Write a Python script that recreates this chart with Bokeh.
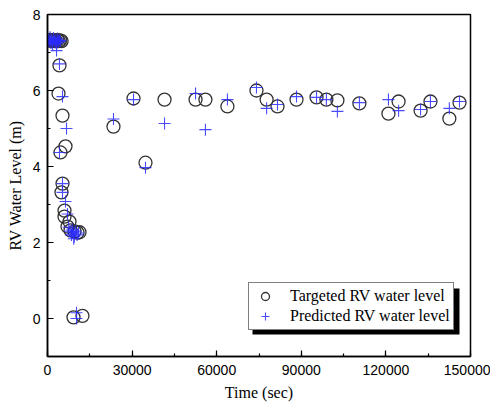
from bokeh.plotting import figure
from bokeh.models import Legend, LegendItem, SingleIntervalTicker, Range1d
from bokeh.embed import file_html
from bokeh.resources import INLINE

# Targeted RV water level (circles)
t_time = [600, 1000, 1500, 2000, 2500, 3000, 3500, 4000, 4500, 5000,
          4250, 3900, 5320, 6380, 4600, 5320, 4960, 6030, 6030, 7800, 7090,
          8160, 9570, 10640, 11350, 9220, 12400,
          23400, 30500, 34750, 41500, 52500, 56000, 63800, 74100, 77700, 81560,
          88300, 95400, 98900, 102800, 110600, 120900, 124500, 132300, 135800,
          142500, 146100]
t_level = [7.32, 7.33, 7.30, 7.32, 7.31, 7.30, 7.33, 7.30, 7.32, 7.30,
           6.66, 5.92, 5.34, 4.53, 4.37, 3.55, 3.32, 2.84, 2.68, 2.55, 2.42,
           2.32, 2.29, 2.26, 2.27, 0.03, 0.07,
           5.05, 5.79, 4.10, 5.76, 5.76, 5.76, 5.58, 6.00, 5.76, 5.58,
           5.76, 5.82, 5.76, 5.74, 5.66, 5.39, 5.71, 5.47, 5.71,
           5.26, 5.68]

# Predicted RV water level (plus markers)
p_time = [300, 600, 900, 1200, 1500, 1800, 2100, 2400, 2700, 3000, 3300,
          3600, 3900, 4200, 4500, 3200,
          4250, 5320, 6740, 4250, 5320, 5320, 6380, 7090,
          7500, 8000, 8500, 9000, 9500, 10000, 10500, 11000, 8800, 9300,
          10300, 10300,
          23400, 30500, 34750, 41500, 52500, 56000, 63800, 74100, 77700, 81560,
          88300, 95400, 98900, 102800, 110600, 120900, 124500, 132300, 135800,
          142500, 146100]
p_level = [7.35, 7.28, 7.40, 7.25, 7.33, 7.22, 7.38, 7.30, 7.26, 7.34, 7.24,
           7.36, 7.28, 7.32, 7.30, 7.05,
           6.70, 5.84, 5.00, 4.37, 3.55, 3.32, 3.08, 2.75,
           2.40, 2.30, 2.20, 2.25, 2.15, 2.30, 2.20, 2.25, 2.35, 2.10,
           0.15, 0.00,
           5.25, 5.76, 3.97, 5.13, 5.92, 4.97, 5.76, 6.08, 5.53, 5.63,
           5.84, 5.82, 5.76, 5.45, 5.68, 5.76, 5.47, 5.50, 5.71,
           5.53, 5.71]

x_ticks = [0, 30000, 60000, 90000, 120000, 150000]
y_ticks = [0, 2, 4, 6, 8]
x_lo, x_hi = 0, 150000
y_lo, y_hi = -1, 8

W, H = 490, 405
FL, FR, FT, FB = 47, 470, 14, 356   # frame edges on the canvas
p = figure(width=W, height=H, output_backend="svg", toolbar_location=None,
           x_range=Range1d(x_lo, x_hi), y_range=Range1d(y_lo, y_hi),
           min_border_left=FL, min_border_right=W - FR,
           min_border_top=FT, min_border_bottom=H - FB)

p.background_fill_color = "white"
p.border_fill_color = "white"
p.outline_line_color = "black"
p.outline_line_width = 1.5
p.xgrid.visible = False
p.ygrid.visible = False

p.xaxis.ticker = SingleIntervalTicker(interval=30000, num_minor_ticks=2)
p.yaxis.ticker = SingleIntervalTicker(interval=2, num_minor_ticks=2)
p.xaxis.major_label_overrides = {v: str(v) for v in x_ticks}

for ax in (p.xaxis[0], p.yaxis[0]):
    ax.axis_line_color = "black"
    ax.axis_line_width = 1.5
    ax.major_tick_in = 6
    ax.major_tick_out = 0
    ax.minor_tick_in = 3
    ax.minor_tick_out = 0
    ax.major_tick_line_width = 1.2
    ax.minor_tick_line_width = 1.2
    ax.major_label_text_font = "Liberation Sans"
    ax.major_label_text_font_size = "14px"
    ax.major_label_text_color = "black"
    ax.axis_label_text_font = "Liberation Serif"
    ax.axis_label_text_font_size = "16px"
    ax.axis_label_text_font_style = "normal"
    ax.axis_label_text_color = "black"

p.xaxis.axis_label = "Time (sec)"
p.yaxis.axis_label = "RV Water Level (m)"
p.xaxis.major_label_standoff = 8
p.xaxis.axis_label_standoff = 6
p.yaxis.major_label_standoff = 7
p.yaxis.axis_label_standoff = 6

# legend placement (pixels from frame left / frame bottom) and its shadow
LEG_X, LEG_Y, LEG_W, LEG_H, SH = 201, 26, 207, 46, 4
px_x = (x_hi - x_lo) / (FR - FL)
px_y = (y_hi - y_lo) / (FB - FT)
p.quad(left=[x_lo + (LEG_X + SH) * px_x], right=[x_lo + (LEG_X + LEG_W + SH) * px_x],
       bottom=[y_lo + (LEG_Y - SH) * px_y], top=[y_lo + (LEG_Y + LEG_H - SH) * px_y],
       fill_color="black", line_color=None, level="overlay")

r_t = p.scatter(t_time, t_level, marker="circle", size=13,
                fill_color=None, line_color="#333333", line_width=1.3)
r_p = p.scatter(p_time, p_level, marker="cross", size=12,
                line_color="#2a2aff", line_alpha=0.85, line_width=1.1)

legend = Legend(items=[LegendItem(label="Targeted RV water level", renderers=[r_t]),
                       LegendItem(label="Predicted RV water level", renderers=[r_p])],
                location=(LEG_X, LEG_Y))
legend.label_text_font = "Liberation Serif"
legend.label_text_font_size = "16px"
legend.label_text_color = "black"
legend.border_line_color = "black"
legend.border_line_width = 1
legend.background_fill_color = "white"
legend.background_fill_alpha = 1.0
legend.padding = 3
legend.spacing = 0
legend.margin = 0
legend.label_height = 20
legend.glyph_height = 20
legend.glyph_width = 26
legend.label_standoff = 12
p.add_layout(legend, "center")

open("out.html", "w").write(file_html(p, INLINE))
